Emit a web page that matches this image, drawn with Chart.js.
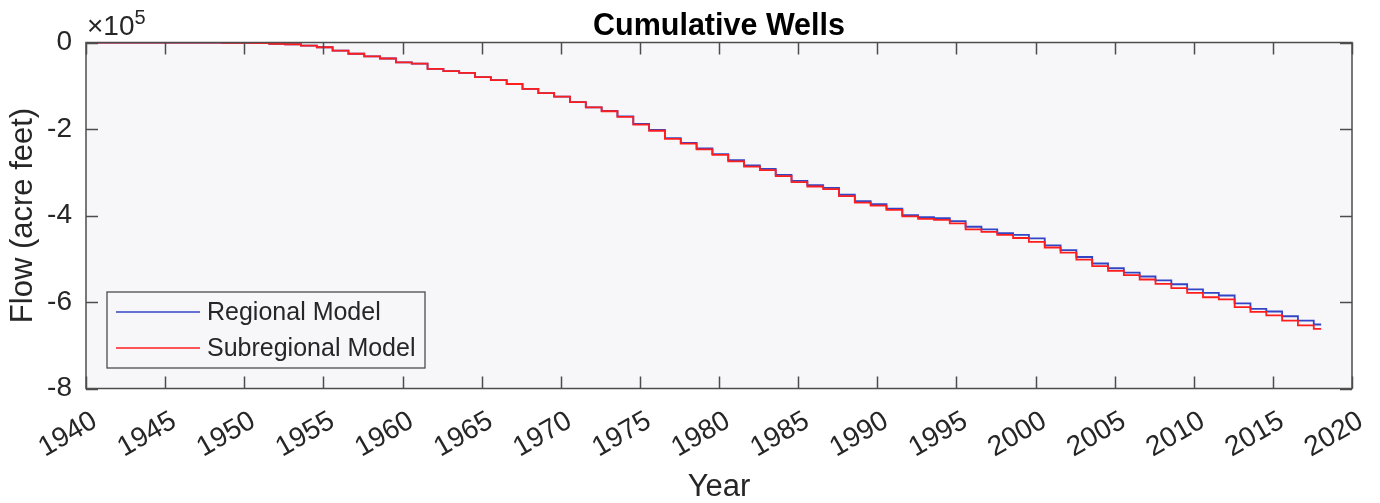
<!DOCTYPE html>
<html>
<head>
<meta charset="utf-8">
<script src="https://cdn.jsdelivr.net/npm/chart.js@4.4.1/dist/chart.umd.min.js"></script>
<style>
  html, body { margin: 0; padding: 0; background: #ffffff; }
  #wrap { width: 1380px; height: 503px; }
</style>
</head>
<body>
<div id="wrap"><canvas id="wellsChart" width="1380" height="503"></canvas></div>
<script>
// water years, one cumulative value per year (units of 10^5 acre feet)
const years = [];
for (let y = 1940; y <= 2017; y++) years.push(y);

const subregionalFlow = [
  0, 0, 0, 0, 0, 0, -0.002, -0.004, -0.007, -0.01,
  -0.015, -0.03, -0.04, -0.07, -0.11, -0.19, -0.26, -0.32, -0.37, -0.46,
  -0.49, -0.61, -0.66, -0.70, -0.80, -0.87, -0.96, -1.07, -1.17, -1.25,
  -1.38, -1.50, -1.59, -1.72, -1.90, -2.04, -2.23, -2.34, -2.47, -2.60,
  -2.75, -2.87, -2.95, -3.09, -3.23, -3.33, -3.39, -3.55, -3.70, -3.77,
  -3.87, -4.02, -4.08, -4.10, -4.18, -4.32, -4.38, -4.45, -4.52, -4.61,
  -4.74, -4.86, -5.02, -5.17, -5.28, -5.38, -5.48, -5.58, -5.68, -5.79,
  -5.89, -5.94, -6.12, -6.23, -6.31, -6.43, -6.54, -6.62
];

const regionalFlow = [
  0, 0, 0, 0, 0, 0, -0.002, -0.004, -0.007, -0.01,
  -0.015, -0.03, -0.04, -0.07, -0.11, -0.19, -0.26, -0.32, -0.37, -0.46,
  -0.49, -0.61, -0.66, -0.70, -0.80, -0.87, -0.96, -1.07, -1.17, -1.25,
  -1.38, -1.50, -1.58, -1.71, -1.88, -2.02, -2.21, -2.32, -2.45, -2.58,
  -2.72, -2.84, -2.92, -3.06, -3.20, -3.30, -3.36, -3.52, -3.67, -3.74,
  -3.84, -3.99, -4.04, -4.06, -4.13, -4.26, -4.32, -4.41, -4.45, -4.53,
  -4.69, -4.80, -4.96, -5.11, -5.22, -5.32, -5.41, -5.50, -5.59, -5.71,
  -5.79, -5.85, -6.03, -6.16, -6.22, -6.33, -6.43, -6.52
];

const seriesNames = ['Regional Model', 'Subregional Model'];
const xTicks = [1940, 1945, 1950, 1955, 1960, 1965, 1970, 1975, 1980, 1985, 1990, 1995, 2000, 2005, 2010, 2015, 2020];
const yTicks = [0, -2, -4, -6, -8];
const chartTitle = 'Cumulative Wells';

const STEP_MONTH = 7;      // yearly totals are booked in August
const START_YEAR = 1940;
const END_YEAR = 2018.05;  // last record

const FONT = "'Liberation Sans', Arial, sans-serif";
const TEXT = '#262626';
const AXIS = '#4d4d4d';
const PLOT_BG = '#f7f7fa';
const BLUE = '#3345c4';
const RED = '#ff1e1e';

function toPoints(values) {
  const pts = [{ x: START_YEAR, y: values[0] }];
  years.forEach((yr, i) => pts.push({ x: yr + STEP_MONTH / 12, y: values[i] }));
  pts.push({ x: END_YEAR, y: values[values.length - 1] });
  return pts;
}

// background, inner ticks, box, legend, title, exponent
const matlabAxes = {
  id: 'matlabAxes',
  beforeDraw(chart) {
    const { ctx, chartArea: a } = chart;
    ctx.save();
    ctx.fillStyle = PLOT_BG;
    ctx.fillRect(a.left, a.top, a.right - a.left, a.bottom - a.top);
    ctx.restore();
  },
  afterDraw(chart) {
    const { ctx, chartArea: a, scales } = chart;
    ctx.save();
    ctx.strokeStyle = AXIS;
    ctx.lineWidth = 1.5;
    ctx.beginPath();
    xTicks.forEach(t => {
      const px = Math.round(scales.x.getPixelForValue(t)) + 0.5;
      ctx.moveTo(px, a.bottom); ctx.lineTo(px, a.bottom - 12);
      ctx.moveTo(px, a.top); ctx.lineTo(px, a.top + 12);
    });
    yTicks.forEach(t => {
      const py = Math.round(scales.y.getPixelForValue(t)) + 0.5;
      ctx.moveTo(a.left, py); ctx.lineTo(a.left + 12, py);
      ctx.moveTo(a.right, py); ctx.lineTo(a.right - 12, py);
    });
    ctx.stroke();
    ctx.strokeRect(a.left, a.top, a.right - a.left, a.bottom - a.top);

    // legend box
    const lx = a.left + 21, ly = 292, lw = 318, lh = 76;
    ctx.fillStyle = PLOT_BG;
    ctx.fillRect(lx, ly, lw, lh);
    ctx.strokeStyle = '#4d4d4d';
    ctx.lineWidth = 1.3;
    ctx.strokeRect(lx, ly, lw, lh);
    const colors = [BLUE, RED];
    ctx.font = '25px ' + FONT;
    ctx.textBaseline = 'middle';
    ctx.textAlign = 'left';
    seriesNames.forEach((name, i) => {
      const yy = ly + 20 + i * 36;
      ctx.strokeStyle = colors[i];
      ctx.lineWidth = 1.5;
      ctx.beginPath();
      ctx.moveTo(lx + 9, yy); ctx.lineTo(lx + 93, yy);
      ctx.stroke();
      ctx.fillStyle = TEXT;
      ctx.fillText(name, lx + 100, yy + 1);
    });

    // title, centred on the axes box
    ctx.fillStyle = '#000000';
    ctx.textBaseline = 'alphabetic';
    ctx.textAlign = 'center';
    ctx.font = 'bold 30.5px ' + FONT;
    ctx.fillText(chartTitle, (a.left + a.right) / 2, 35);

    // x10^5 exponent label
    ctx.fillStyle = TEXT;
    ctx.textAlign = 'left';
    ctx.font = '28px ' + FONT;
    ctx.fillText('\u00d710', a.left + 1, 35);
    const w = ctx.measureText('\u00d710').width;
    ctx.font = '20px ' + FONT;
    ctx.fillText('5', a.left + 1 + w, 24);
    ctx.restore();
  }
};

const config = {
  type: 'line',
  data: {
    datasets: [
      {
        label: seriesNames[0],
        data: toPoints(regionalFlow),
        borderColor: BLUE,
        borderWidth: 1.8,
        pointRadius: 0,
        stepped: true,
        order: 1
      },
      {
        label: seriesNames[1],
        data: toPoints(subregionalFlow),
        borderColor: RED,
        borderWidth: 1.8,
        pointRadius: 0,
        stepped: true,
        order: 0
      }
    ]
  },
  options: {
    responsive: false,
    animation: false,
    layout: { padding: { left: 0, right: 28, top: 42.5, bottom: 0 } },
    plugins: {
      legend: { display: false },
      tooltip: { enabled: false },
      title: { display: false }
    },
    scales: {
      x: {
        type: 'linear',
        min: 1940,
        max: 2020,
        afterBuildTicks: s => { s.ticks = xTicks.map(v => ({ value: v })); },
        afterFit: s => { s.height = 114.5; s.paddingLeft = 0; s.paddingRight = 0; },
        grid: { display: false, drawTicks: false },
        border: { display: false },
        ticks: {
          autoSkip: false,
          minRotation: 30,
          maxRotation: 30,
          padding: 16,
          labelOffset: 9,
          color: TEXT,
          font: { family: FONT, size: 28 },
          callback: v => String(v)
        },
        title: {
          display: true,
          text: 'Year',
          color: TEXT,
          font: { family: FONT, size: 31 },
          padding: { top: 0, bottom: -3 }
        }
      },
      y: {
        min: -8,
        max: 0,
        afterBuildTicks: s => { s.ticks = yTicks.map(v => ({ value: v })); },
        afterFit: s => { s.width = 86; s.paddingTop = 0; s.paddingBottom = 0; },
        grid: { display: false, drawTicks: false },
        border: { display: false },
        ticks: {
          padding: 14,
          color: TEXT,
          font: { family: FONT, size: 28 },
          callback: v => String(v)
        },
        title: {
          display: true,
          text: 'Flow (acre feet)',
          color: TEXT,
          font: { family: FONT, size: 31 },
          padding: { top: 5, bottom: 0 }
        }
      }
    }
  },
  plugins: [matlabAxes]
};

new Chart(document.getElementById('wellsChart'), config);
</script>
</body>
</html>
